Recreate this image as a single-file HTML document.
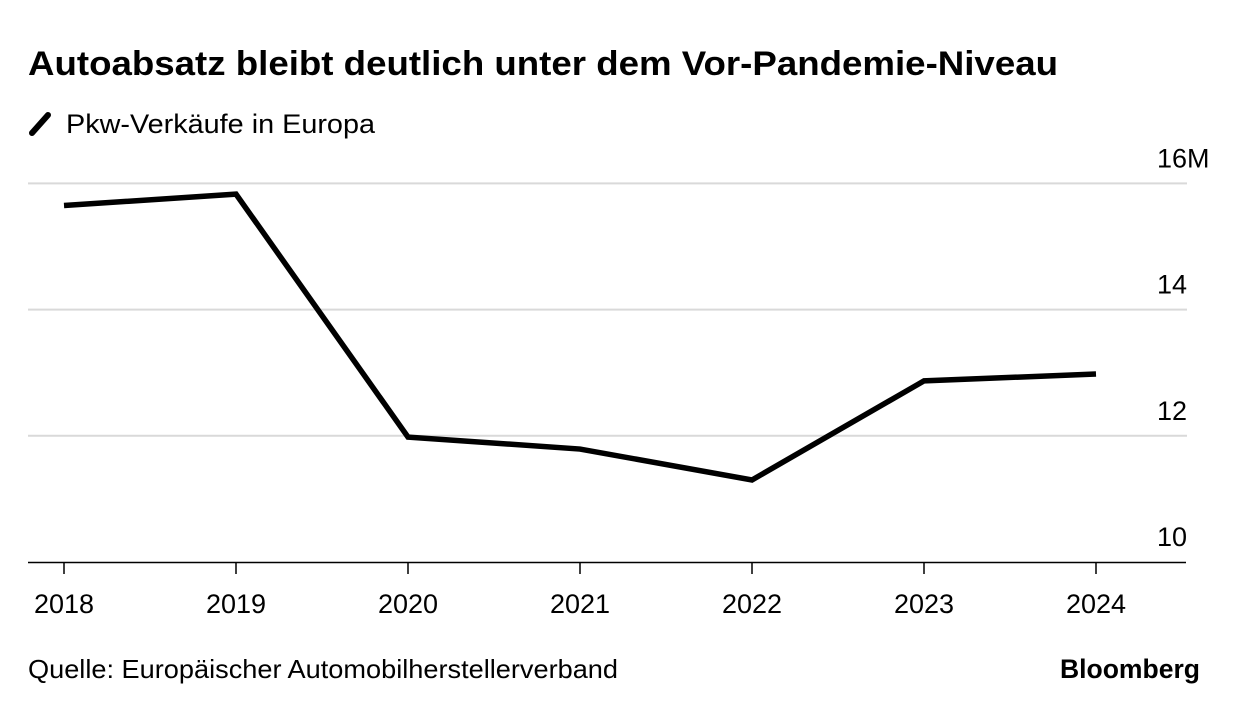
<!DOCTYPE html>
<html><head><meta charset="utf-8"><style>
body{margin:0;background:#fff;width:1240px;height:712px;overflow:hidden;font-family:"Liberation Sans",sans-serif;}
svg{display:block}
</style></head><body>
<svg width="1240" height="712">
<text x="28" y="75" font-size="34" font-weight="bold" fill="#000" textLength="1030" lengthAdjust="spacingAndGlyphs">Autoabsatz bleibt deutlich unter dem Vor-Pandemie-Niveau</text>
<line x1="32" y1="133" x2="48" y2="115" stroke="#000" stroke-width="6" stroke-linecap="round"/>
<text x="66" y="133" font-size="27" fill="#000" textLength="309" lengthAdjust="spacingAndGlyphs">Pkw-Verkäufe in Europa</text>
<g id="grid"></g><g id="xax"></g>
<path id="line" fill="none" stroke="#000" stroke-width="5.5" stroke-linejoin="miter"/>
<text x="28" y="678" font-size="26" fill="#000" textLength="590" lengthAdjust="spacingAndGlyphs">Quelle: Europäischer Automobilherstellerverband</text>
<text x="1200" y="678" font-size="27" font-weight="bold" text-anchor="end" fill="#000" textLength="140" lengthAdjust="spacingAndGlyphs">Bloomberg</text>
</svg>
<script>
const years=["2018","2019","2020","2021","2022","2023","2024"];
const sales=[15.65,15.83,11.98,11.79,11.30,12.87,12.98];
const yTicks=[10,12,14,16];
const yTickLabels=["10","12","14","16M"];
const NS="http://www.w3.org/2000/svg";
function x(i){return 64+i*172;}
function y(v){return 562-(v-10)*63.1;}
const grid=document.getElementById('grid');
yTicks.forEach((t,i)=>{
 if(t>10){const l=document.createElementNS(NS,'line');
 l.setAttribute('x1',28);l.setAttribute('x2',1187);l.setAttribute('y1',y(t));l.setAttribute('y2',y(t));
 l.setAttribute('stroke','#d9d9d9');l.setAttribute('stroke-width',2);
 
 
 grid.appendChild(l);}
 const tx=document.createElementNS(NS,'text');
 tx.setAttribute('x',1157);tx.setAttribute('y',y(t)-16);tx.setAttribute('font-size',27);
 tx.textContent=yTickLabels[i];
 
 
 grid.appendChild(tx);
});
const xa=document.getElementById('xax');
const ax=document.createElementNS(NS,'line');
ax.setAttribute('x1',28);ax.setAttribute('x2',1186);ax.setAttribute('y1',562.5);ax.setAttribute('y2',562.5);
ax.setAttribute('stroke','#000');ax.setAttribute('stroke-width',1.5);


xa.appendChild(ax);
years.forEach((yr,i)=>{
 const t=document.createElementNS(NS,'line');
 t.setAttribute('x1',x(i));t.setAttribute('x2',x(i));t.setAttribute('y1',562);t.setAttribute('y2',574);
 t.setAttribute('stroke','#000');t.setAttribute('stroke-width',1.5);
 
 
 xa.appendChild(t);
 const tx=document.createElementNS(NS,'text');
 tx.setAttribute('x',x(i));tx.setAttribute('y',613);tx.setAttribute('font-size',27);tx.setAttribute('text-anchor','middle');
 tx.textContent=yr;
 
 
 xa.appendChild(tx);
});
document.getElementById('line').setAttribute('d',sales.map((v,i)=>(i?'L':'M')+x(i)+','+y(v)).join(' '));
</script>
</body></html>
